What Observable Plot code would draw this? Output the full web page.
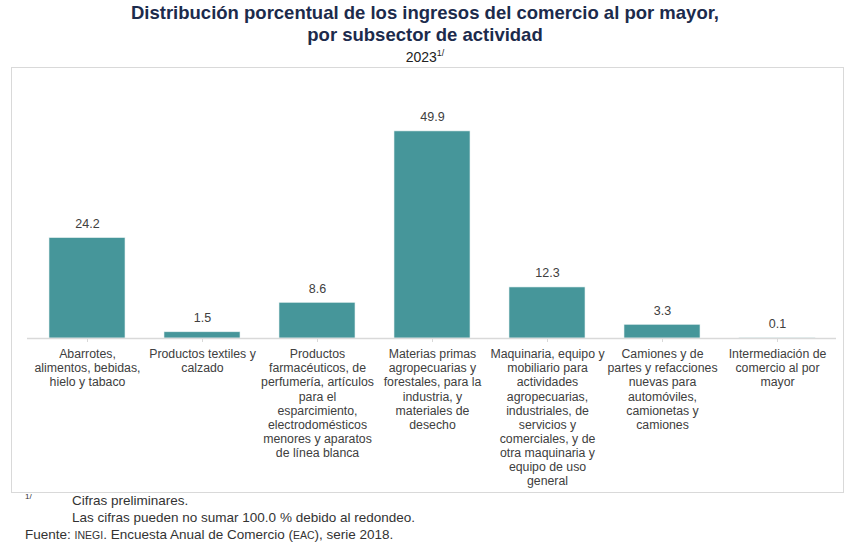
<!DOCTYPE html>
<html>
<head>
<meta charset="utf-8">
<script src="https://cdn.jsdelivr.net/npm/d3@7"></script>
<script src="https://cdn.jsdelivr.net/npm/@observablehq/plot@0.6"></script>
<style>
  body { margin: 0; background: #fff; font-family: "Liberation Sans", Arial, sans-serif; }
  #wrap { position: relative; width: 850px; height: 550px; overflow: hidden; }
  .title { position: absolute; left: 0; width: 850px; text-align: center; font-weight: bold; font-size: 18.5px; color: #1c2b4c; }
  .sub { position: absolute; left: 0; width: 850px; text-align: center; font-size: 14px; color: #222; }
  .sub sup { font-size: 9px; }
  #frame { position: absolute; left: 11px; top: 67px; width: 831px; height: 424px; border: 1px solid #d9d9d9; }
  #chart { position: absolute; left: 0; top: 67px; }
  .foot { position: absolute; font-size: 13.5px; color: #333; white-space: nowrap; }
  .sm { font-size: 10.5px; }
</style>
</head>
<body>
<div id="wrap">
  <div class="title" style="top:2px">Distribución porcentual de los ingresos del comercio al por mayor,</div>
  <div class="title" style="top:24px">por subsector de actividad</div>
  <div class="sub" style="top:48px">2023<sup>1/</sup></div>
  <div id="frame"></div>
  <div id="chart"></div>
  <div class="foot" style="left:25px; top:492px; font-size:8px;">1/</div>
  <div class="foot" style="left:72px; top:493px;">Cifras preliminares.</div>
  <div class="foot" style="left:72px; top:510px;">Las cifras pueden no sumar 100.0 % debido al redondeo.</div>
  <div class="foot" style="left:25px; top:527px;">Fuente: <span class="sm">INEGI</span>. Encuesta Anual de Comercio (<span class="sm">EAC</span>), serie 2018.</div>
</div>
<script>
const categories = [
  "Abarrotes,\nalimentos, bebidas,\nhielo y tabaco",
  "Productos textiles y\ncalzado",
  "Productos\nfarmacéuticos, de\nperfumería, artículos\npara el\nesparcimiento,\nelectrodomésticos\nmenores y aparatos\nde línea blanca",
  "Materias primas\nagropecuarias y\nforestales, para la\nindustria, y\nmateriales de\ndesecho",
  "Maquinaria, equipo y\nmobiliario para\nactividades\nagropecuarias,\nindustriales, de\nservicios y\ncomerciales, y de\notra maquinaria y\nequipo de uso\ngeneral",
  "Camiones y de\npartes y refacciones\nnuevas para\nautomóviles,\ncamionetas y\ncamiones",
  "Intermediación de\ncomercio al por\nmayor"
];
const values = [24.2, 1.5, 8.6, 49.9, 12.3, 3.3, 0.1];
const data = categories.map((c, i) => ({cat: c, value: values[i]}));

const chart = Plot.plot({
  width: 850,
  height: 424,
  marginLeft: 27,
  marginRight: 14,
  marginTop: 22,
  marginBottom: 153,
  style: {fontFamily: "'Liberation Sans', Arial, sans-serif", background: "transparent"},
  x: {domain: categories, paddingInner: 0.34, paddingOuter: 0.17},
  y: {domain: [0, 60], axis: null},
  marks: [
    Plot.barY(data, {x: "cat", y: "value", fill: "#46969a", stroke: "#e8f2f2", strokeWidth: 0.6}),
    Plot.ruleY([0], {stroke: "#d9d9d9", strokeWidth: 1.5}),
    Plot.text(data, {x: "cat", y: "value", text: d => d.value.toFixed(1), dy: -14, fontSize: 12.5, fill: "#404040"}),
    Plot.axisX({tickSize: 4, tickPadding: 6, stroke: "#d9d9d9", fontSize: 12.3, lineHeight: 1.14, fill: "#404040", label: null, tickFormat: d => d})
  ]
});
document.getElementById("chart").appendChild(chart);
</script>
</body>
</html>
